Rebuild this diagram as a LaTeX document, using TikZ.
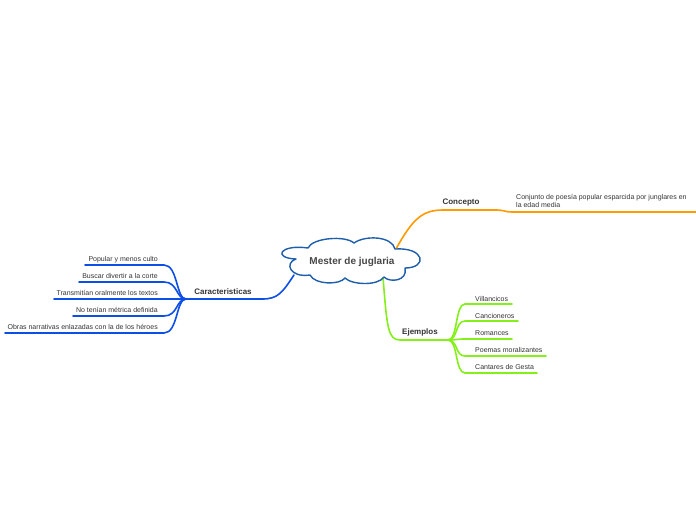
\documentclass[tikz,border=0pt]{standalone}
\usepackage{fontspec}
\setmainfont{Liberation Sans}
\definecolor{cloudblue}{HTML}{1F5EAA}
\definecolor{caracblue}{HTML}{0D4FE6}
\definecolor{concorange}{HTML}{FF9A00}
\definecolor{ejemgreen}{HTML}{84F01A}
\definecolor{txtgray}{HTML}{333333}

\begin{document}
\begin{tikzpicture}[x=1pt, y=-1pt, line cap=round, every node/.style={font=\fontsize{7}{8.5}\selectfont, text=txtgray, inner sep=0pt},
      topic/.style={font=\fontsize{8}{9}\selectfont\bfseries}]
      \useasboundingbox (0,0) rectangle (696,520);

      % puntos del borde de la nube
      \coordinate (cne) at (396,249);
      \coordinate (cs) at (383,277);
      \coordinate (csw) at (294,275);

      % concepto
      \coordinate (co1) at (443,210);
      \coordinate (co2) at (496,210);
      \coordinate (co3) at (512,212);
      \coordinate (co4) at (696,212);
      \draw[concorange, line width=1.6pt] (cne) .. controls (413,218) and (423,210) .. (co1) -- (co2)
            .. controls (504,210) and (505,212) .. (co3) -- (co4);
      \node[anchor=base, topic] (concepto) at (461,204) {Concepto};
      \node[anchor=base west, align=left] (conjunto) at (516,207.5) {Conjunto de poesía popular esparcida por junglares en\\la edad media};

      % ejemplos
      \coordinate (ej1) at (400,340);
      \coordinate (ej) at (448,340);
      \draw[ejemgreen, line width=1.6pt] (cs) .. controls (387,328) and (388,340) .. (ej1) -- (ej);
      \node[anchor=base, topic] (ejemplos) at (420,334) {Ejemplos};

      \coordinate (v) at (465,304);
      \coordinate (c) at (465,321);
      \coordinate (r) at (465,339);
      \coordinate (p) at (465,356);
      \coordinate (g) at (465,373);
      \draw[ejemgreen, line width=1.6pt] (ej) .. controls (458,340) and (455,304) .. (v) -- (512,304);
      \draw[ejemgreen, line width=1.6pt] (ej) .. controls (458,340) and (455,321) .. (c) -- (518,321);
      \draw[ejemgreen, line width=1.6pt] (ej) .. controls (458,340) and (455,339) .. (r) -- (512,339);
      \draw[ejemgreen, line width=1.6pt] (ej) .. controls (458,340) and (455,356) .. (p) -- (546,356);
      \draw[ejemgreen, line width=1.6pt] (ej) .. controls (458,340) and (455,373) .. (g) -- (537,373);
      \node[anchor=base west] (villancicos) at (475,301) {Villancicos};
      \node[anchor=base west] (cancioneros) at (475,318) {Cancioneros};
      \node[anchor=base west] (romances) at (475,335) {Romances};
      \node[anchor=base west] (poemas) at (475,352) {Poemas moralizantes};
      \node[anchor=base west] (cantares) at (475,369) {Cantares de Gesta};

      % caracteristicas
      \coordinate (ca1) at (262,299);
      \coordinate (ca) at (186,299);
      \draw[caracblue, line width=1.6pt] (csw) .. controls (282,293) and (278,299) .. (ca1) -- (ca);
      \node[anchor=base, topic] (caracteristicas) at (223,294) {Caracteristicas};

      \coordinate (pc) at (164,265);
      \coordinate (bd) at (164,282);
      \coordinate (to) at (164,299);
      \coordinate (nm) at (164,316);
      \coordinate (on) at (164,333);
      \draw[caracblue, line width=1.6pt] (ca) .. controls (176,299) and (178,265) .. (pc) -- (85,265);
      \draw[caracblue, line width=1.6pt] (ca) .. controls (176,299) and (178,282) .. (bd) -- (79,282);
      \draw[caracblue, line width=1.6pt] (ca) .. controls (176,299) and (178,299) .. (to) -- (54,299);
      \draw[caracblue, line width=1.6pt] (ca) .. controls (176,299) and (178,316) .. (nm) -- (73,316);
      \draw[caracblue, line width=1.6pt] (ca) .. controls (176,299) and (178,333) .. (on) -- (5,333);
      \node[anchor=base east] (popular) at (158,261) {Popular y menos culto};
      \node[anchor=base east] (buscar) at (158,278) {Buscar divertir a la corte};
      \node[anchor=base east] (transmitian) at (158,295) {Transmitían oralmente los textos};
      \node[anchor=base east] (metrica) at (158,312) {No tenían métrica definida};
      \node[anchor=base east] (obras) at (158,329) {Obras narrativas enlazadas con la de los héroes};

      % nube central
      \draw[cloudblue, line width=1.4pt, fill=white, line join=round]
            (296,259) .. controls (272,258) and (280,244) .. (308,248)
            .. controls (312,238) and (345,235) .. (354,243)
            .. controls (365,235) and (392,236) .. (395,249)
            .. controls (425,247) and (428,268) .. (405,268)
            .. controls (408,281) and (390,283) .. (384,277)
            .. controls (378,286) and (352,285) .. (345,278)
            .. controls (340,285) and (315,285) .. (310,275)
            .. controls (290,278) and (284,263) .. cycle;
      \node[font=\fontsize{10}{12}\selectfont\bfseries, text=txtgray!90] (mester) at (352,262) {Mester de juglaria};
    \end{tikzpicture}
\end{document}
